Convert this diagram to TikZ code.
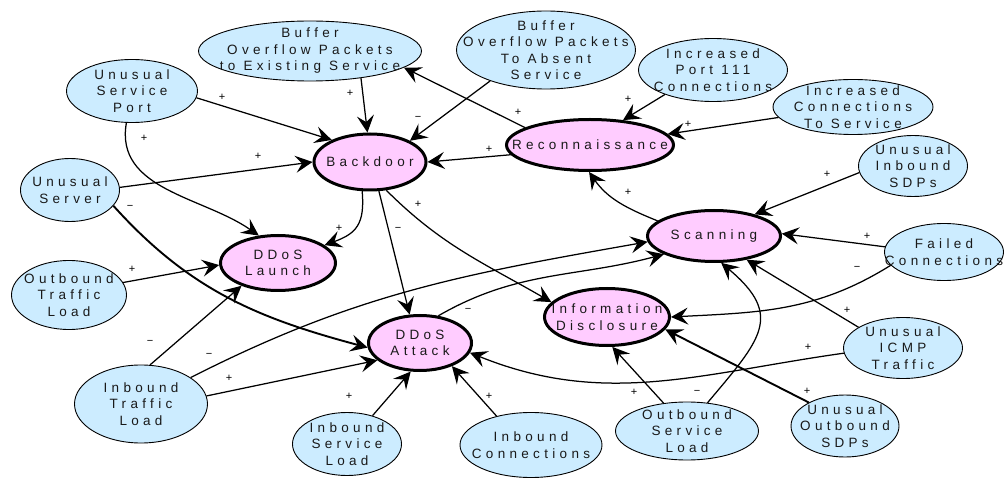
\documentclass[tikz,border=0pt]{standalone}
\usepackage{fontspec}
\setmainfont{Liberation Sans}
\newfontfamily\spacedfont[LetterSpace=32]{Liberation Sans}
\usetikzlibrary{shapes.geometric,arrows.meta}
\definecolor{evidencefill}{RGB}{204,236,255}
\definecolor{attackfill}{RGB}{255,204,255}

\begin{document}
\begin{tikzpicture}[x=1pt,y=1pt,
  evidence/.style={ellipse, draw=black, line width=0.9pt, fill=evidencefill, inner sep=0pt},
  attack/.style={ellipse, draw=black, line width=3pt, fill=attackfill, inner sep=0pt},
  nodetext/.style={align=center, inner sep=0pt, text=black!90,
    font=\spacedfont\fontsize{13.5}{16.5}\selectfont},
  polarity/.style={inner sep=0pt, font=\fontsize{11}{12}\selectfont},
  link/.style={-{Stealth[length=17pt,width=17pt,inset=6.5pt]}, line width=1.25pt},
  heavylink/.style={link, line width=1.9pt}
]
\useasboundingbox (0,0) rectangle (1004,-478);

% evidence nodes (light blue)
\node[evidence, minimum width=223, minimum height=60] (bex) at (310,-51) {};
\node[evidence, minimum width=179, minimum height=78] (bab) at (546,-50) {};
\node[evidence, minimum width=149, minimum height=63] (p111) at (713,-70) {};
\node[evidence, minimum width=160, minimum height=55] (ics) at (853,-107) {};
\node[evidence, minimum width=109, minimum height=61] (uis) at (913,-166) {};
\node[evidence, minimum width=119, minimum height=57] (fc) at (944,-252) {};
\node[evidence, minimum width=119, minimum height=61] (icmp) at (903,-348) {};
\node[evidence, minimum width=108, minimum height=62] (uos) at (845,-426) {};
\node[evidence, minimum width=143, minimum height=58] (osl) at (687,-431) {};
\node[evidence, minimum width=142, minimum height=65] (icn) at (531,-445) {};
\node[evidence, minimum width=109, minimum height=63] (isl) at (347,-444) {};
\node[evidence, minimum width=133, minimum height=78] (itl) at (141,-404) {};
\node[evidence, minimum width=115, minimum height=69] (otl) at (69,-295) {};
\node[evidence, minimum width=99, minimum height=63] (us) at (70,-190) {};
\node[evidence, minimum width=131, minimum height=63] (usp) at (132,-91) {};

% attack nodes (pink)
\node[attack, minimum width=112, minimum height=56] (bd) at (370,-162) {};
\node[attack, minimum width=167, minimum height=51] (rec) at (590,-145) {};
\node[attack, minimum width=133, minimum height=51] (scan) at (714,-236) {};
\node[attack, minimum width=115, minimum height=55] (dl) at (278,-263) {};
\node[attack, minimum width=103, minimum height=55] (da) at (420,-343) {};
\node[attack, minimum width=125, minimum height=57] (id) at (607,-317) {};

% node captions
\node[nodetext] (bex-t) at (bex) {Buffer\\Overflow Packets\\to Existing Service};
\node[nodetext] (bab-t) at (bab) {Buffer\\Overflow Packets\\To Absent\\Service};
\node[nodetext] (p111-t) at (p111) {Increased\\Port 111\\Connections};
\node[nodetext] (ics-t) at (ics) {Increased\\Connections\\To Service};
\node[nodetext] (uis-t) at (uis) {Unusual\\Inbound\\SDPs};
\node[nodetext] (fc-t) at (fc) {Failed\\Connections};
\node[nodetext] (icmp-t) at (icmp) {Unusual\\ICMP\\Traffic};
\node[nodetext] (uos-t) at (uos) {Unusual\\Outbound\\SDPs};
\node[nodetext] (osl-t) at (osl) {Outbound\\Service\\Load};
\node[nodetext] (icn-t) at (icn) {Inbound\\Connections};
\node[nodetext] (isl-t) at (isl) {Inbound\\Service\\Load};
\node[nodetext] (itl-t) at (itl) {Inbound\\Traffic\\Load};
\node[nodetext] (otl-t) at (otl) {Outbound\\Traffic\\Load};
\node[nodetext] (us-t) at (us) {Unusual\\Server};
\node[nodetext] (usp-t) at (usp) {Unusual\\Service\\Port};
\node[nodetext] (bd-t) at (bd) {Backdoor};
\node[nodetext] (rec-t) at (rec) {Reconnaissance};
\node[nodetext] (scan-t) at (scan) {Scanning};
\node[nodetext] (dl-t) at (dl) {DDoS\\Launch};
\node[nodetext] (da-t) at (da) {DDoS\\Attack};
\node[nodetext] (id-t) at (id) {Information\\Disclosure};

% causal links
\draw[link] (bex.-28) -- (bd.95);
\draw[link] (bab.-151) -- (bd.28);
\draw[link] (rec.165) -- (bex.-10);
\draw[link] (rec.-173) -- (bd.0);
\draw[link] (p111.-153) -- (rec.37);
\draw[link] (ics.-172) -- (rec.8);
\draw[link] (uis.-173) -- (scan.28);
\draw[link] (fc.175) -- (scan.2);
\draw[link] (fc.-166) to[out=212,in=3] (id.0);
\draw[link] (icmp.155) -- (scan.-36);
\draw[link] (icmp.-175) to[out=188,in=-22] (da.-11);
\draw[heavylink] (uos.147) -- (id.-12);
\draw[link] (osl.130) -- (id.-80);
\draw[link] (osl.54) to[out=50,in=-40,looseness=1.5] (scan.-75);
\draw[link] (icn.140) -- (da.-36);
\draw[link] (isl.48) -- (da.-108);
\draw[link] (itl.7) -- (da.-158);
\draw[link] (itl.77) -- (dl.-148);
\draw[link] (itl.28) to[out=27,in=190] (scan.-175);
\draw[link] (da.56) to[out=30,in=195] (scan.-160);
\draw[heavylink] (us.-20) to[out=-48,in=165] (da.-175);
\draw[link] (us.3) -- (bd.180);
\draw[link] (usp.-6) -- (bd.150);
\draw[link] (usp.-100) to[out=-100,in=145] (dl.125);
\draw[link] (otl.13) -- (dl.-178);
\draw[link] (bd.-105) to[out=-85,in=20,looseness=1.3] (dl.21);
\draw[link] (bd.-73) -- (da.110);
\draw[link] (bd.-60) to[out=-45,in=150] (id.165);
\draw[link] (scan.165) to[out=158,in=-55] (rec.-92);

% link polarities
\node[polarity] (s1) at (350,-93) {+};
\node[polarity] (s2) at (418,-118) {−};
\node[polarity] (s3) at (518,-112) {+};
\node[polarity] (s4) at (489,-149) {+};
\node[polarity] (s5) at (628,-99) {+};
\node[polarity] (s6) at (688,-124) {+};
\node[polarity] (s7) at (827,-174) {+};
\node[polarity] (s8) at (867,-236) {+};
\node[polarity] (s9) at (857,-268) {−};
\node[polarity] (s10) at (847,-310) {+};
\node[polarity] (s11) at (808,-347) {+};
\node[polarity] (s12) at (807,-391) {+};
\node[polarity] (s13) at (634,-392) {+};
\node[polarity] (s14) at (697,-392) {−};
\node[polarity] (s15) at (489,-396) {+};
\node[polarity] (s16) at (349,-396) {+};
\node[polarity] (s17) at (229,-378) {+};
\node[polarity] (s18) at (150,-342) {−};
\node[polarity] (s19) at (209,-355) {−};
\node[polarity] (s20) at (468,-310) {−};
\node[polarity] (s21) at (130,-207) {−};
\node[polarity] (s22) at (258,-156) {+};
\node[polarity] (s23) at (222,-97) {+};
\node[polarity] (s24) at (144,-138) {+};
\node[polarity] (s25) at (132,-269) {+};
\node[polarity] (s26) at (339,-228) {+};
\node[polarity] (s27) at (398,-229) {−};
\node[polarity] (s28) at (418,-204) {+};
\node[polarity] (s29) at (628,-192) {+};
\end{tikzpicture}
\end{document}
